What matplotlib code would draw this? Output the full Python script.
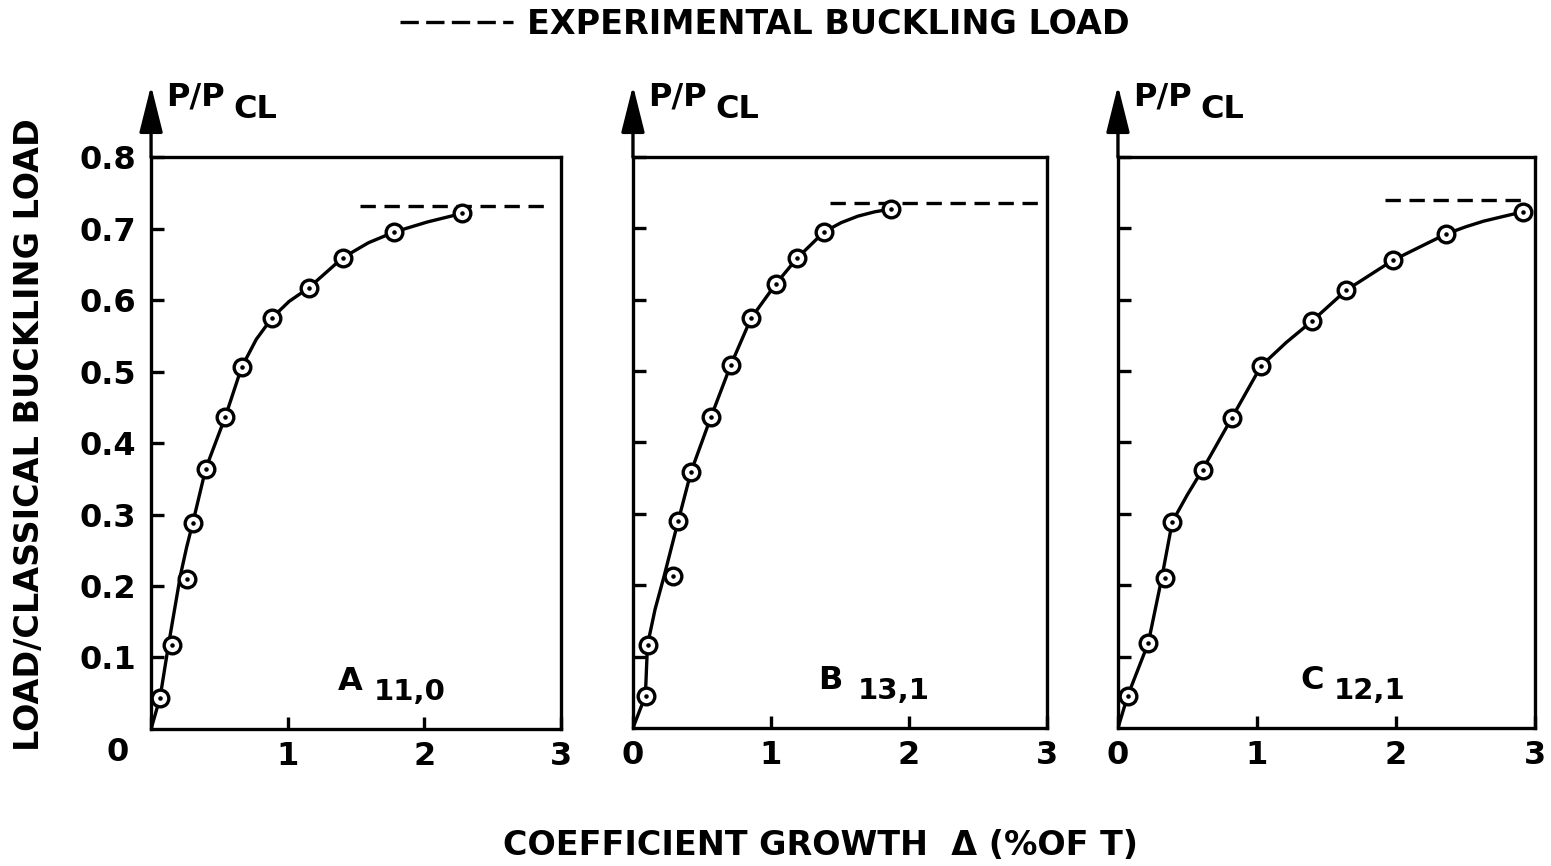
"""Load ratio P/P_CL against coefficient growth for three shells (A11,0 / B13,1 / C12,1)."""

import matplotlib

matplotlib.use("Agg")

import matplotlib.pyplot as plt
from matplotlib.lines import Line2D


# --- values ---
PANEL_LETTERS = ["A", "B", "C"]
PANEL_SUBS = ["11,0", "13,1", "12,1"]

# measured points (circled dots)
A_PTS_X = [0.066, 0.151, 0.266, 0.305, 0.400, 0.544, 0.663, 0.885, 1.154, 1.402, 1.778, 2.273]
A_PTS_Y = [0.044, 0.117, 0.210, 0.288, 0.364, 0.437, 0.506, 0.575, 0.617, 0.659, 0.695, 0.721]
B_PTS_X = [0.094, 0.111, 0.292, 0.328, 0.421, 0.566, 0.708, 0.856, 1.035, 1.189, 1.385, 1.869]
B_PTS_Y = [0.045, 0.116, 0.213, 0.290, 0.359, 0.436, 0.508, 0.574, 0.622, 0.658, 0.695, 0.727]
C_PTS_X = [0.070, 0.218, 0.338, 0.391, 0.609, 0.818, 1.029, 1.396, 1.640, 1.976, 2.360, 2.911]
C_PTS_Y = [0.045, 0.119, 0.210, 0.289, 0.362, 0.434, 0.507, 0.570, 0.613, 0.655, 0.692, 0.723]

# faired curves as drawn on the figure
A_CURVE_X = [0.0, 0.066, 0.127, 0.170, 0.215, 0.260, 0.305, 0.400, 0.544, 0.663, 0.770, 0.885,
             1.010, 1.154, 1.402, 1.590, 1.778, 2.020, 2.273]
A_CURVE_Y = [0.0, 0.044, 0.117, 0.165, 0.215, 0.254, 0.288, 0.364, 0.437, 0.506, 0.545, 0.575,
             0.598, 0.617, 0.659, 0.680, 0.695, 0.709, 0.721]
B_CURVE_X = [0.0, 0.090, 0.105, 0.160, 0.226, 0.328, 0.421, 0.566, 0.708, 0.856, 1.035, 1.189,
             1.385, 1.510, 1.630, 1.750, 1.869]
B_CURVE_Y = [0.0, 0.045, 0.116, 0.166, 0.213, 0.290, 0.359, 0.436, 0.508, 0.574, 0.622, 0.658,
             0.695, 0.708, 0.717, 0.723, 0.727]
C_CURVE_X = [0.0, 0.070, 0.218, 0.315, 0.391, 0.500, 0.609, 0.818, 1.029, 1.210, 1.396, 1.640,
             1.976, 2.360, 2.500, 2.630, 2.780, 2.911]
C_CURVE_Y = [0.0, 0.045, 0.119, 0.210, 0.289, 0.327, 0.362, 0.434, 0.507, 0.540, 0.570, 0.613,
             0.655, 0.692, 0.702, 0.710, 0.717, 0.723]

# experimental buckling load (dashed): [x_start, x_end], level
EXP_X = [[1.53, 2.90], [1.43, 2.97], [1.92, 2.96]]
EXP_LOAD = [0.732, 0.735, 0.739]

X_TICKS = [0, 1, 2, 3]
Y_TICKS = [0.1, 0.2, 0.3, 0.4, 0.5, 0.6, 0.7, 0.8]

PANELS = [
    (A_PTS_X, A_PTS_Y, A_CURVE_X, A_CURVE_Y),
    (B_PTS_X, B_PTS_Y, B_CURVE_X, B_CURVE_Y),
    (C_PTS_X, C_PTS_Y, C_CURVE_X, C_CURVE_Y),
]

# axes rectangles in figure fractions (left, bottom, width, height)
AX_RECTS = [
    (0.0974, 0.1582, 0.2643, 0.6605),
    (0.4081, 0.1594, 0.2669, 0.6594),
    (0.7208, 0.1594, 0.2689, 0.6594),
]
# where the panel designation sits (data x of letter, data x of subscript)
LETTER_X = [1.37, 1.34, 1.31]
SUB_X = [1.63, 1.63, 1.55]

LW = 2.4
FS = 23
plt.rcParams["font.weight"] = "bold"


def draw_panel(ax, idx):
    pts_x, pts_y, cur_x, cur_y = PANELS[idx]

    ax.set_xlim(0, 3)
    ax.set_ylim(0, 0.8)
    for side in ["left", "right", "top", "bottom"]:
        ax.spines[side].set_linewidth(LW)

    ax.plot(cur_x, cur_y, color="black", lw=2.4, solid_capstyle="round",
            solid_joinstyle="round", zorder=2)
    ax.plot(pts_x, pts_y, "o", ms=12, mfc="white", mec="black", mew=2.4,
            zorder=3, clip_on=False)
    ax.plot(pts_x, pts_y, ".", ms=4.5, color="black", zorder=4, clip_on=False)

    x0, x1 = EXP_X[idx]
    ax.hlines(EXP_LOAD[idx], x0, x1, colors="black", lw=2.4,
              linestyles=(0, (4.6, 2.6)), zorder=2)

    ax.set_xticks(X_TICKS)
    ax.set_yticks(Y_TICKS)
    ax.tick_params(direction="in", length=9, width=LW, labelsize=FS, pad=9)
    ax.tick_params(axis="y", pad=11)
    if idx == 0:
        ax.set_xticklabels([""] + [str(t) for t in X_TICKS[1:]])
        ax.set_yticklabels([f"{t:.1f}" for t in Y_TICKS])
        ax.annotate("0", xy=(0, 0), xycoords="axes fraction", xytext=(-24, -17),
                    textcoords="offset points", ha="center", va="center", fontsize=FS)
    else:
        ax.set_xticklabels([str(t) for t in X_TICKS])
        ax.set_yticklabels([])

    # y axis arrow above the frame
    ax.annotate("", xy=(0, 1.125), xytext=(0, 1.0), xycoords="axes fraction",
                arrowprops=dict(arrowstyle="-|>,head_length=0.8,head_width=0.2",
                                mutation_scale=36, lw=LW, color="black",
                                shrinkA=0, shrinkB=0))
    ax.annotate("P/P", xy=(0, 1), xycoords="axes fraction", xytext=(11, 37),
                textcoords="offset points", ha="left", va="baseline", fontsize=FS)
    ax.annotate("CL", xy=(0, 1), xycoords="axes fraction", xytext=(59, 28),
                textcoords="offset points", ha="left", va="baseline", fontsize=FS)

    # panel designation, e.g. A 11,0
    ax.text(LETTER_X[idx], 0.055, PANEL_LETTERS[idx], ha="left", va="baseline", fontsize=FS)
    ax.text(SUB_X[idx], 0.04, PANEL_SUBS[idx], ha="left", va="baseline", fontsize=FS - 2)


fig = plt.figure(figsize=(15.51, 8.66), dpi=100)
for i, rect in enumerate(AX_RECTS):
    draw_panel(fig.add_axes(rect), i)

handle = Line2D([], [], color="black", lw=2.4, ls=(0, (5.5, 2.2)))
fig.legend(handles=[handle], labels=["EXPERIMENTAL BUCKLING LOAD"],
           loc="center", bbox_to_anchor=(0.493, 0.972), frameon=False,
           handlelength=3.4, handletextpad=0.4, fontsize=24)

fig.text(0.019, 0.498, "LOAD/CLASSICAL BUCKLING LOAD", rotation=90,
         ha="center", va="center", fontsize=24)
fig.text(0.529, 0.024, "COEFFICIENT GROWTH  \u0394 (%OF T)",
         ha="center", va="center", fontsize=24)

fig.savefig("out.png", dpi=100, facecolor="white")
